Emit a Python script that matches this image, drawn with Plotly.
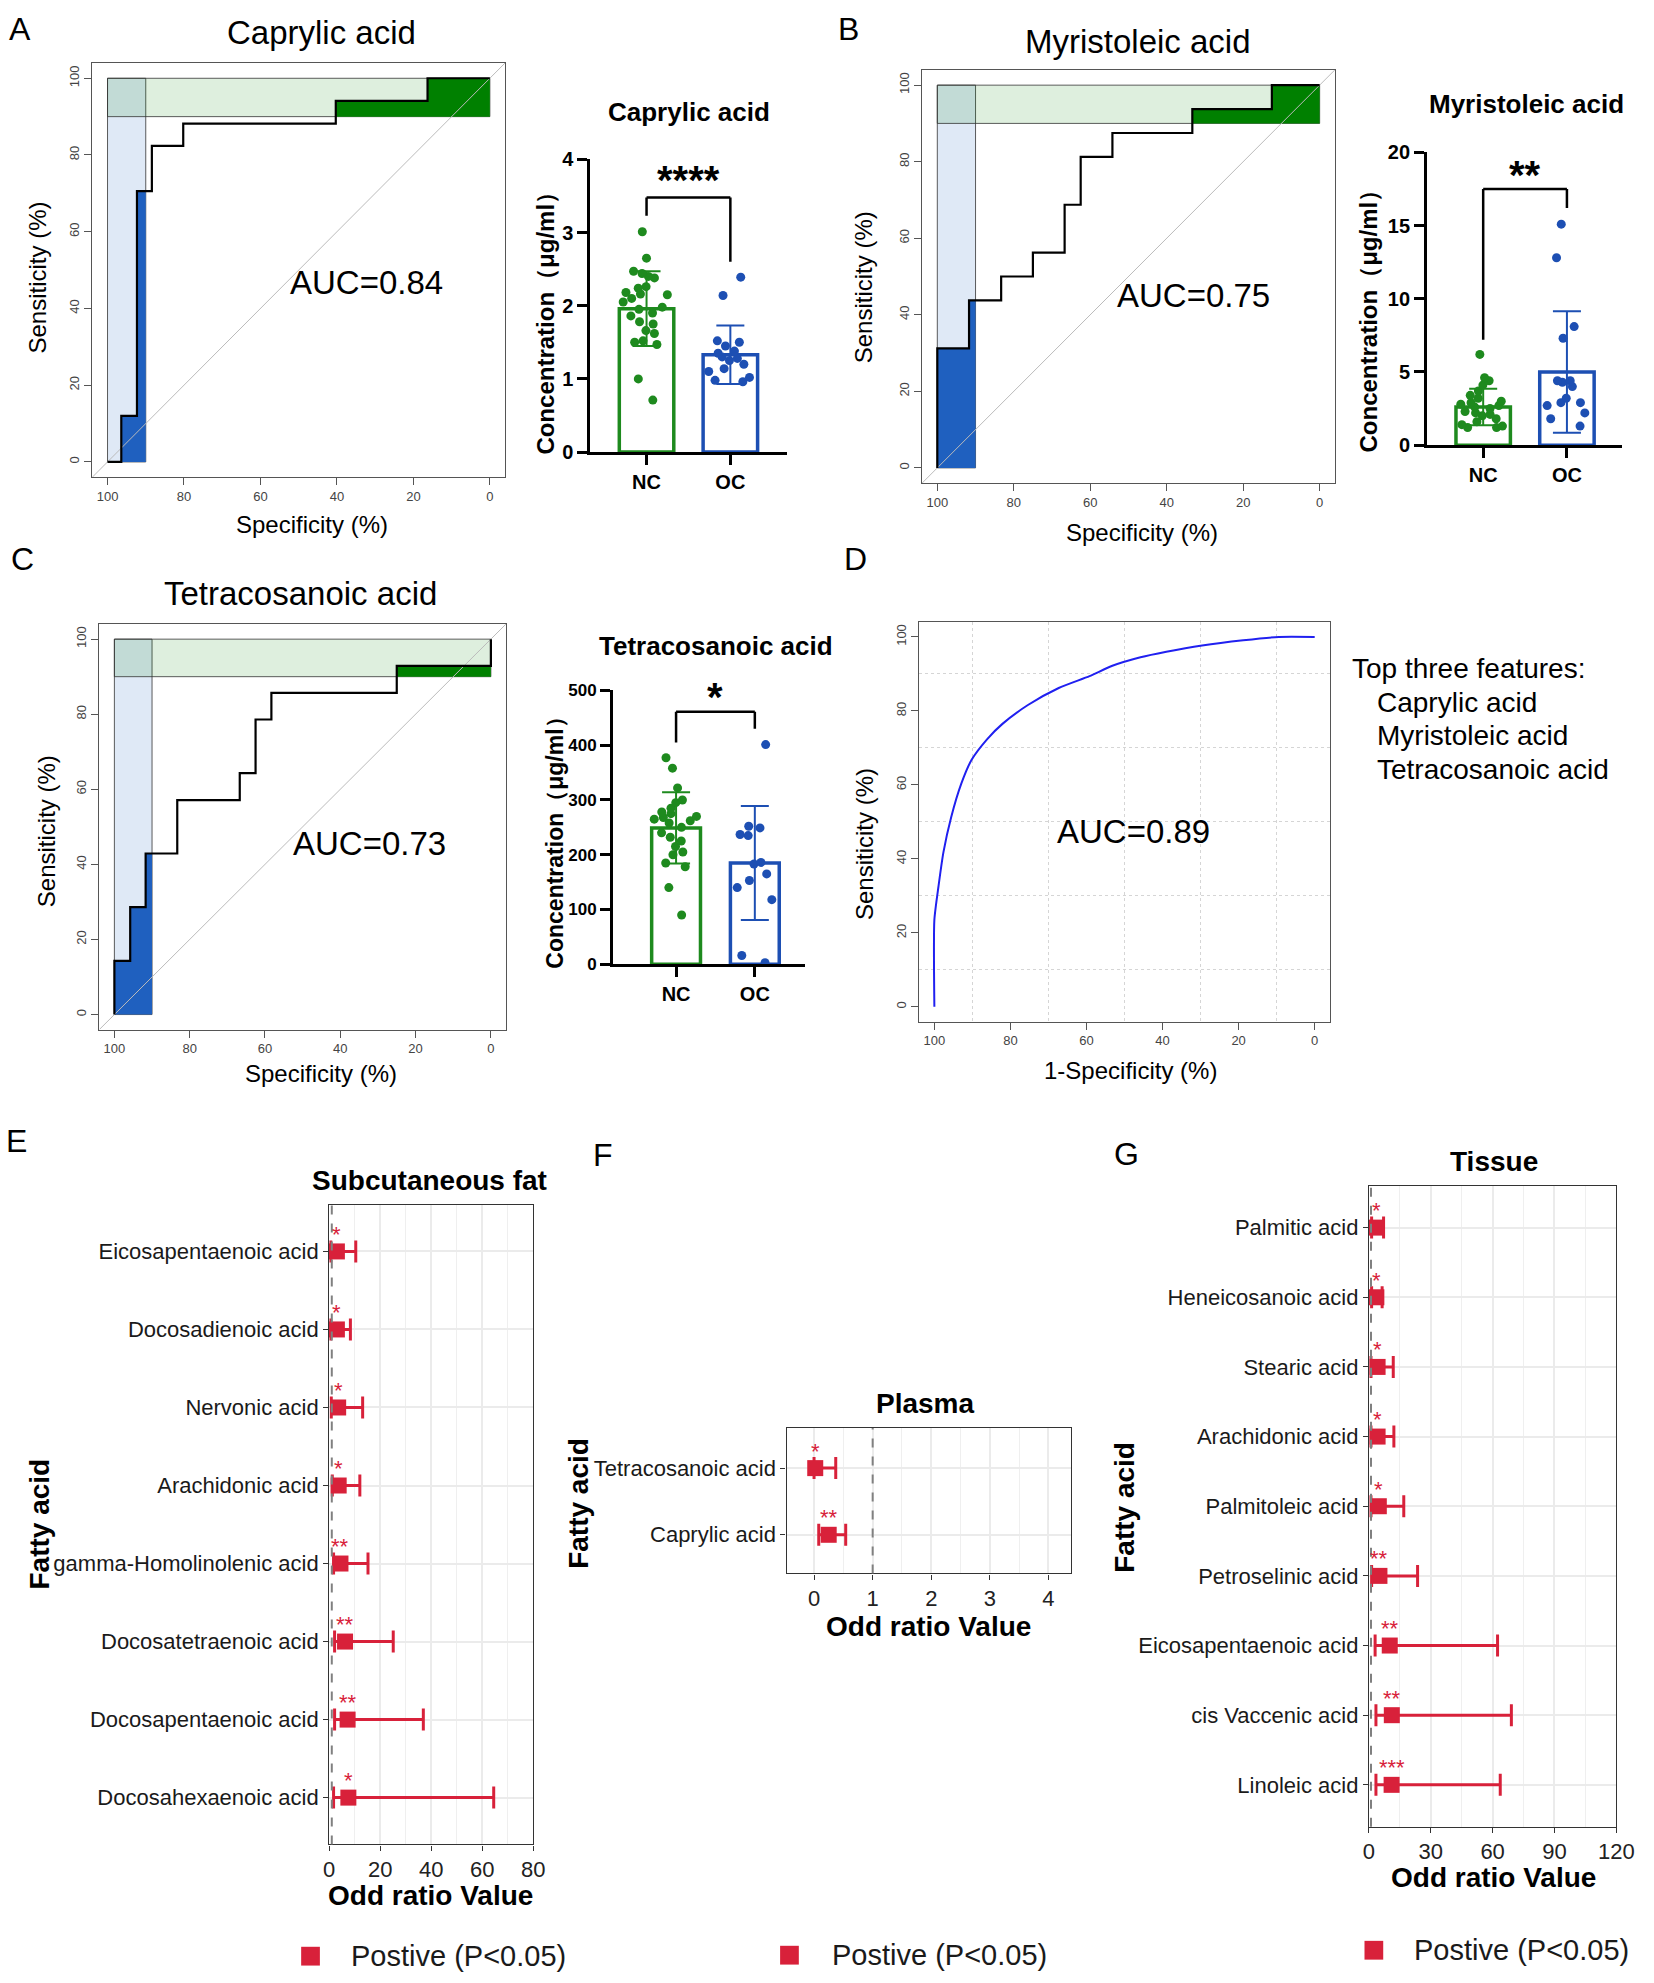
import plotly.graph_objects as go

W, H = 1654, 1983
FONT = "Liberation Sans, Arial, Helvetica, sans-serif"
RED = "#D8213A"
NC_COLOR = "#1E8A1E"
OC_COLOR = "#1D4FB3"
ROC_BLUE = "#1F60BF"
ROC_GREEN = "#008000"

# ---------------- data ----------------
# ROC curves (specificity %, sensitivity %)
ROC_A_SPEC = [100, 96.4, 96.4, 92.3, 92.3, 88.4, 88.4, 80.2, 80.2, 40.3, 40.3, 16.3, 16.3, 0]
ROC_A_SENS = [0, 0, 12.0, 12.0, 70.6, 70.6, 82.4, 82.4, 88.2, 88.2, 94.1, 94.1, 100, 100]
ROC_B_SPEC = [100, 100, 91.7, 91.7, 83.3, 83.3, 75.0, 75.0, 66.7, 66.7, 62.5, 62.5, 54.2, 54.2, 33.3, 33.3, 12.5, 12.5, 0]
ROC_B_SENS = [0, 31.25, 31.25, 43.75, 43.75, 50.0, 50.0, 56.25, 56.25, 68.75, 68.75, 81.25, 81.25, 87.5, 87.5, 93.75, 93.75, 100, 100]
ROC_C_SPEC = [100, 100, 95.8, 95.8, 91.7, 91.7, 83.3, 83.3, 66.7, 66.7, 62.5, 62.5, 58.3, 58.3, 25.0, 25.0, 0, 0]
ROC_C_SENS = [0, 14.3, 14.3, 28.6, 28.6, 42.9, 42.9, 57.1, 57.1, 64.3, 64.3, 78.6, 78.6, 85.7, 85.7, 92.9, 92.9, 100]
ROC_D_SPEC = [100, 100, 98.9, 97.6, 95.6, 92.9, 90.2, 86.1, 82.1, 75.4, 67.3, 59.2, 53.2, 45.8, 39.0, 29.6, 18.8, 9.4, 0]
ROC_D_SENS = [0, 23.5, 32.7, 41.9, 51.2, 60.4, 66.8, 72.4, 76.5, 81.6, 86.2, 89.4, 92.2, 94.5, 96.0, 97.7, 99.1, 100, 100]
ROC_TITLES = ["Caprylic acid", "Myristoleic acid", "Tetracosanoic acid"]
AUC_LABELS = ["AUC=0.84", "AUC=0.75", "AUC=0.73", "AUC=0.89"]
SPEC_FOCUS = [100, 90]   # partial AUC range, specificity
SENS_FOCUS = [90, 100]   # partial AUC range, sensitivity
ROC_TICKS = [100, 80, 60, 40, 20, 0]
TOP_FEATURES = ["Caprylic acid", "Myristoleic acid", "Tetracosanoic acid"]

# Bar + scatter-dot plots (concentration, ug/ml)
GROUPS = ["NC", "OC"]
A_NC = [3.01, 2.65, 2.47, 2.44, 2.40, 2.38, 2.26, 2.24, 2.18, 2.16, 2.15, 2.10, 2.05,
        1.98, 1.95, 1.90, 1.86, 1.78, 1.75, 1.66, 1.62, 1.52, 1.50, 1.47, 1.00, 0.71]
A_OC = [2.39, 2.14, 1.52, 1.50, 1.45, 1.38, 1.35, 1.30, 1.28, 1.25, 1.20, 1.14, 1.10, 1.02, 0.98, 0.96]
A_MEAN = [1.96, 1.33]
A_SD = [0.51, 0.40]
B_NC = [6.2, 4.6, 4.4, 4.1, 3.7, 3.4, 3.2, 3.0, 2.9, 2.8, 2.7, 2.6, 2.5, 2.3, 2.2, 2.1,
        2.0, 1.8, 1.6, 1.4, 1.3, 1.2, 1.2]
B_OC = [15.1, 12.8, 8.1, 7.3, 4.4, 4.4, 4.3, 4.0, 3.2, 2.9, 2.9, 2.7, 2.2, 1.8, 1.3]
B_MEAN = [2.6, 5.0]
B_SD = [1.25, 4.15]
C_NC = [377, 358, 322, 300, 295, 285, 278, 275, 270, 268, 265, 262, 258, 250, 240, 232,
        225, 215, 205, 200, 185, 178, 140, 90]
C_OC = [401, 252, 249, 237, 235, 186, 183, 165, 153, 140, 118, 16, 3]
C_MEAN = [249, 185]
C_SD = [65, 104]
SIG_BARS = ["****", "**", "*"]

# Forest plots (odds ratio, 95% CI)
E_NAMES = ["Eicosapentaenoic acid", "Docosadienoic acid", "Nervonic acid", "Arachidonic acid",
           "gamma-Homolinolenic acid", "Docosatetraenoic acid", "Docosapentaenoic acid",
           "Docosahexaenoic acid"]
E_OR = [3.0, 3.0, 3.5, 3.7, 4.4, 6.2, 7.2, 7.5]
E_LO = [0.6, 0.6, 0.8, 1.2, 1.7, 2.1, 2.1, 1.7]
E_HI = [10.4, 8.3, 13.1, 12.0, 15.2, 25.1, 36.9, 64.5]
E_SIG = ["*", "*", "*", "*", "**", "**", "**", "*"]
F_NAMES = ["Tetracosanoic acid", "Caprylic acid"]
F_OR = [0.02, 0.25]
F_LO = [0.0, 0.08]
F_HI = [0.37, 0.54]
F_SIG = ["*", "**"]
G_NAMES = ["Palmitic acid", "Heneicosanoic acid", "Stearic acid", "Arachidonic acid",
           "Palmitoleic acid", "Petroselinic acid", "Eicosapentaenoic acid",
           "cis Vaccenic acid", "Linoleic acid"]
G_OR = [3.7, 3.6, 4.2, 4.2, 4.8, 5.1, 10.1, 11.1, 11.0]
G_LO = [1.3, 1.3, 1.0, 1.0, 1.0, 1.3, 3.0, 3.4, 3.4]
G_HI = [7.1, 6.4, 11.8, 12.1, 16.9, 23.6, 62.4, 69.1, 63.7]
G_SIG = ["*", "*", "*", "*", "*", "**", "**", "**", "***"]
LEGEND_LABEL = "Postive (P<0.05)"


# ---------------- helpers ----------------
def px(x):
    return x / W


def py(y):
    return 1 - y / H


def xdom(l, r):
    return [l / W, r / W]


def ydom(t, b):
    return [1 - b / H, 1 - t / H]


fig = go.Figure()
annotations = []
shapes = []
axes = {}


def names(n):
    xa = "x" if n == 1 else f"x{n}"
    ya = "y" if n == 1 else f"y{n}"
    xk = "xaxis" if n == 1 else f"xaxis{n}"
    yk = "yaxis" if n == 1 else f"yaxis{n}"
    return xa, ya, xk, yk


def text(t, x, y, size, bold=False, color="black", angle=0, xanchor="center", yanchor="middle"):
    annotations.append(dict(text=t, x=px(x), y=py(y), xref="paper", yref="paper", showarrow=False,
                            font=dict(family=FONT, size=size, color=color, weight=700 if bold else 400),
                            textangle=angle, xanchor=xanchor, yanchor=yanchor))


def pauc_spec_poly(spec, sens, hi, lo):
    xs, ys = [], []
    for i in range(len(spec)):
        if spec[i] >= lo:
            xs.append(spec[i]); ys.append(sens[i])
        if i + 1 < len(spec) and spec[i] > lo > spec[i + 1]:
            t = (spec[i] - lo) / (spec[i] - spec[i + 1])
            xs.append(lo); ys.append(sens[i] + t * (sens[i + 1] - sens[i]))
    xs += [lo, hi]; ys += [0, 0]
    return xs, ys


def pauc_sens_poly(spec, sens, lo, hi):
    xs, ys = [], []
    for i in range(len(spec)):
        if i > 0 and sens[i - 1] < lo < sens[i]:
            t = (lo - sens[i - 1]) / (sens[i] - sens[i - 1])
            xs.append(spec[i - 1] + t * (spec[i] - spec[i - 1])); ys.append(lo)
        if sens[i] >= lo:
            xs.append(spec[i]); ys.append(sens[i])
    xs += [0]; ys += [lo]
    return xs, ys


def roc_axes(n, xd, yd, grid=False):
    xa, ya, xk, yk = names(n)
    common = dict(tickmode="array", tickvals=ROC_TICKS, ticks="outside", ticklen=7,
                  tickcolor="#555", tickwidth=1, showline=True, mirror=True, linecolor="#555",
                  linewidth=1, showgrid=False, zeroline=False,
                  tickfont=dict(family=FONT, size=13, color="#444"))
    xax = dict(common, domain=xd, range=[104, -4], anchor=ya)
    yax = dict(common, domain=yd, range=[-4, 104], anchor=xa, tickangle=-90)
    if grid:
        mn = dict(tickmode="array", tickvals=[10, 30, 50, 70, 90], showgrid=True,
                  gridcolor="#D5D5D5", griddash="dot", gridwidth=1, ticks="")
        xax["minor"] = mn
        yax["minor"] = mn
    axes[xk] = xax
    axes[yk] = yax


def roc_panel(n, spec, sens, xd, yd):
    xa, ya, xk, yk = names(n)
    kw = dict(xaxis=xa, yaxis=ya, hoverinfo="skip", showlegend=False)
    # partial-AUC bands
    fig.add_trace(go.Scatter(x=[SPEC_FOCUS[0], SPEC_FOCUS[1], SPEC_FOCUS[1], SPEC_FOCUS[0], SPEC_FOCUS[0]],
                             y=[0, 0, 100, 100, 0], mode="lines", fill="toself",
                             fillcolor="rgba(31,96,191,0.14)", line=dict(color="#333", width=0.8), **kw))
    fig.add_trace(go.Scatter(x=[100, 0, 0, 100, 100],
                             y=[SENS_FOCUS[0], SENS_FOCUS[0], SENS_FOCUS[1], SENS_FOCUS[1], SENS_FOCUS[0]],
                             mode="lines", fill="toself", fillcolor="rgba(0,128,0,0.13)",
                             line=dict(color="#333", width=0.8), **kw))
    bx, by = pauc_spec_poly(spec, sens, SPEC_FOCUS[0], SPEC_FOCUS[1])
    fig.add_trace(go.Scatter(x=bx, y=by, mode="lines", fill="toself", fillcolor=ROC_BLUE,
                             line=dict(width=0), **kw))
    gx, gy = pauc_sens_poly(spec, sens, SENS_FOCUS[0], SENS_FOCUS[1])
    fig.add_trace(go.Scatter(x=gx, y=gy, mode="lines", fill="toself", fillcolor=ROC_GREEN,
                             line=dict(width=0), **kw))
    fig.add_trace(go.Scatter(x=[104, -4], y=[-4, 104], mode="lines",
                             line=dict(color="#BBBBBB", width=1), **kw))
    fig.add_trace(go.Scatter(x=spec, y=sens, mode="lines", line=dict(color="black", width=2.2), **kw))
    roc_axes(n, xd, yd)


def bar_panel(n, means, sds, pts_list, xd, yd, yrange, dtick, xrange, bw, bracket, sig, star_y, tsize=20):
    xa, ya, xk, yk = names(n)
    colors = [NC_COLOR, OC_COLOR]
    for i in range(len(GROUPS)):
        fig.add_trace(go.Bar(x=[i], y=[means[i]], width=bw,
                             marker=dict(color="white", line=dict(color=colors[i], width=3.5)),
                             error_y=dict(type="data", array=[sds[i]], color=colors[i], thickness=2, width=14),
                             xaxis=xa, yaxis=ya, showlegend=False, hoverinfo="skip"))
    for i in range(len(GROUPS)):
        fig.add_trace(go.Box(x=[i] * len(pts_list[i]), y=pts_list[i], boxpoints="all", jitter=0.9,
                             pointpos=0, width=bw * 1.05, fillcolor="rgba(0,0,0,0)",
                             line=dict(width=0, color="rgba(0,0,0,0)"), whiskerwidth=0,
                             marker=dict(color=colors[i], size=9), xaxis=xa, yaxis=ya,
                             showlegend=False, hoverinfo="skip"))
    tf = dict(family=FONT, size=tsize, color="black", weight=700)
    xf = dict(family=FONT, size=20, color="black", weight=700)
    axes[xk] = dict(domain=xd, range=xrange, tickmode="array", tickvals=list(range(len(GROUPS))),
                    ticktext=GROUPS, ticks="outside", ticklen=10, tickwidth=3, tickcolor="black",
                    showline=True, linewidth=3, linecolor="black", showgrid=False, zeroline=False,
                    tickfont=xf, anchor=ya)
    axes[yk] = dict(domain=yd, range=yrange, dtick=dtick, tick0=0, ticks="outside", ticklen=10,
                    tickwidth=3, tickcolor="black", showline=True, linewidth=3, linecolor="black",
                    showgrid=False, zeroline=False, tickfont=tf, anchor=xa)
    l0, top, l1 = bracket
    for (x0, y0, x1, y1) in [(0, l0, 0, top), (0, top, 1, top), (1, top, 1, l1)]:
        shapes.append(dict(type="line", xref=xa, yref=ya, x0=x0, y0=y0, x1=x1, y1=y1,
                           line=dict(color="black", width=2.5)))
    annotations.append(dict(text=sig, x=0.5, y=star_y, xref=xa, yref=ya, showarrow=False,
                            font=dict(family=FONT, size=40, color="black", weight=700),
                            xanchor="center", yanchor="middle"))


def forest_panel(n, nm, ors, los, his, sigs, xd, yd, xrange, dtick, minor, yrange):
    xa, ya, xk, yk = names(n)
    idx = list(range(len(nm)))
    shapes.append(dict(type="line", xref=xa, yref=f"{ya} domain", x0=1, x1=1, y0=0, y1=1,
                       line=dict(color="#808080", width=2, dash="dash")))
    fig.add_trace(go.Scatter(x=ors, y=idx, mode="markers",
                             marker=dict(symbol="square", size=16, color=RED),
                             error_x=dict(type="data", symmetric=False,
                                          array=[h - o for h, o in zip(his, ors)],
                                          arrayminus=[o - l for o, l in zip(ors, los)],
                                          color=RED, thickness=3, width=11),
                             xaxis=xa, yaxis=ya, showlegend=False, hoverinfo="skip", cliponaxis=False))
    for o, i, s in zip(ors, idx, sigs):
        annotations.append(dict(text=s, x=o, y=i, xref=xa, yref=ya, showarrow=False, yshift=17,
                                font=dict(family=FONT, size=22, color=RED),
                                xanchor="center", yanchor="middle"))
    axes[xk] = dict(domain=xd, range=xrange, dtick=dtick, tick0=0, ticks="outside", ticklen=5,
                    tickcolor="#333", tickwidth=1.2, showline=True, mirror=True, linecolor="#333",
                    linewidth=1.3, showgrid=True, gridcolor="#EBEBEB", gridwidth=1.5, zeroline=False,
                    minor=dict(dtick=minor, showgrid=True, gridcolor="#EFEFEF", gridwidth=1, ticks=""),
                    tickfont=dict(family=FONT, size=22, color="#222"), anchor=ya)
    axes[yk] = dict(domain=yd, range=yrange, tickmode="array", tickvals=idx, ticktext=nm,
                    ticks="outside", ticklen=5, tickcolor="#333", tickwidth=1.2, showline=True,
                    mirror=True, linecolor="#333", linewidth=1.3, showgrid=True, gridcolor="#EBEBEB",
                    gridwidth=1.5, zeroline=False, tickfont=dict(family=FONT, size=22, color="#1a1a1a"),
                    anchor=xa)


# ---------------- panels ----------------
# A
roc_panel(1, ROC_A_SPEC, ROC_A_SENS, xdom(87.5, 506.5), ydom(52.5, 471.5))
bar_panel(2, A_MEAN, A_SD, [A_NC, A_OC], xdom(593, 792), ydom(150, 446), [0, 4], 1,
          [-0.67, 1.67], 0.65, [3.23, 3.48, 2.6], SIG_BARS[0], 3.72)
# B
roc_panel(3, ROC_B_SPEC, ROC_B_SENS, xdom(929.5, 1348.5), ydom(59.5, 477.5))
bar_panel(4, B_MEAN, B_SD, [B_NC, B_OC], xdom(1442, 1640), ydom(143, 439), [0, 20], 5,
          [-0.67, 1.66], 0.65, [7.2, 17.5, 16.2], SIG_BARS[1], 18.45)
# C
roc_panel(5, ROC_C_SPEC, ROC_C_SENS, xdom(94.7, 507.3), ydom(620, 1030))
bar_panel(6, C_MEAN, C_SD, [C_NC, C_OC], xdom(616, 811), ydom(687, 964), [0, 500], 100,
          [-0.8, 1.64], 0.62, [405, 461, 430], SIG_BARS[2], 487, tsize=17)
# D
fig.add_trace(go.Scatter(x=ROC_D_SPEC, y=ROC_D_SENS, mode="lines",
                         line=dict(color="#2020F0", width=2, shape="spline", smoothing=0.6),
                         xaxis="x7", yaxis="y7", showlegend=False, hoverinfo="skip"))
roc_axes(7, xdom(926.6, 1343.4), ydom(618, 1022), grid=True)
# E, F, G
forest_panel(8, E_NAMES, E_OR, E_LO, E_HI, E_SIG, xdom(328, 535), ydom(1207, 1854), [0, 80], 20, 10,
             [len(E_NAMES) - 0.4, -0.6])
forest_panel(9, F_NAMES, F_OR, F_LO, F_HI, F_SIG, xdom(792, 1081), ydom(1433, 1580), [-0.47, 4.39], 1, 0.5,
             [1.58, -0.6])
forest_panel(10, G_NAMES, G_OR, G_LO, G_HI, G_SIG, xdom(1383, 1634), ydom(1188, 1836), [0, 120], 30, 15,
             [len(G_NAMES) - 0.4, -0.6])

# ---------------- texts ----------------
for letter, (x, y) in zip("ABCDEFG", [(14, 18), (855, 18), (17, 554), (862, 554), (11, 1143),
                                      (606, 1157), (1137, 1156)]):
    text(letter, x, y, 32)

# ROC titles, AUC, axis titles
for t, (x, y) in zip(ROC_TITLES, [(320, 22), (1149, 31), (299, 589)]):
    text(t, x, y, 33)
for t, (x, y) in zip(AUC_LABELS, [(366, 275), (1205, 288), (369, 842), (1144, 830)]):
    text(t, x, y, 33)
for (x, y) in [(31, 270), (871, 279), (41, 829), (871, 842)]:
    text("Sensiticity (%)", x, y, 24, angle=-90)
for (x, y) in [(311, 519), (1153, 527), (320, 1074)]:
    text("Specificity (%)", x, y, 24)
text("1-Specificity (%)", 1141, 1071, 24)
text("Top three features:", 1364, 665, 28, xanchor="left")
for t, y in zip(TOP_FEATURES, [699, 733, 767]):
    text(t, 1389, y, 28, xanchor="left")

# bar titles and axis titles
for t, (x, y) in zip(ROC_TITLES, [(693, 102), (1543, 94), (720, 642)]):
    text(t, x, y, 26, bold=True)
for (x, y, s) in [(547, 310, 24), (1383, 307, 24), (557, 835, 23)]:
    text("Concentration（μg/ml）", x, y, s, bold=True, angle=-90)

# forest titles / axis titles / legends
for t, (x, y) in zip(["Subcutaneous fat", "Plasma", "Tissue"], [(430, 1183), (933, 1408), (1510, 1163)]):
    text(t, x, y, 28, bold=True)
for (x, y) in [(431, 1906), (936, 1634), (1509, 1887)]:
    text("Odd ratio Value", x, y, 28, bold=True)
for (x, y) in [(34, 1530), (581, 1509), (1135, 1513)]:
    text("Fatty acid", x, y, 28, bold=True, angle=-90)
for (sx, sy, tx) in [(309, 1967, 348), (795, 1966, 836), (1388, 1961, 1427)]:
    shapes.append(dict(type="rect", xref="paper", yref="paper", x0=px(sx - 9.5), x1=px(sx + 9.5),
                       y0=py(sy + 9.5), y1=py(sy - 9.5), fillcolor=RED, line=dict(width=0)))
    text(LEGEND_LABEL, tx, sy, 29, color="#1a1a1a", xanchor="left")

fig.update_layout(width=W, height=H, autosize=False, margin=dict(l=0, r=0, t=0, b=0),
                  paper_bgcolor="white", plot_bgcolor="white", showlegend=False,
                  barmode="overlay", boxmode="overlay", font=dict(family=FONT),
                  annotations=annotations, shapes=shapes, **axes)

fig.write_html("out.html", config={"displayModeBar": False},
               post_script="document.body.style.margin='0px';")
